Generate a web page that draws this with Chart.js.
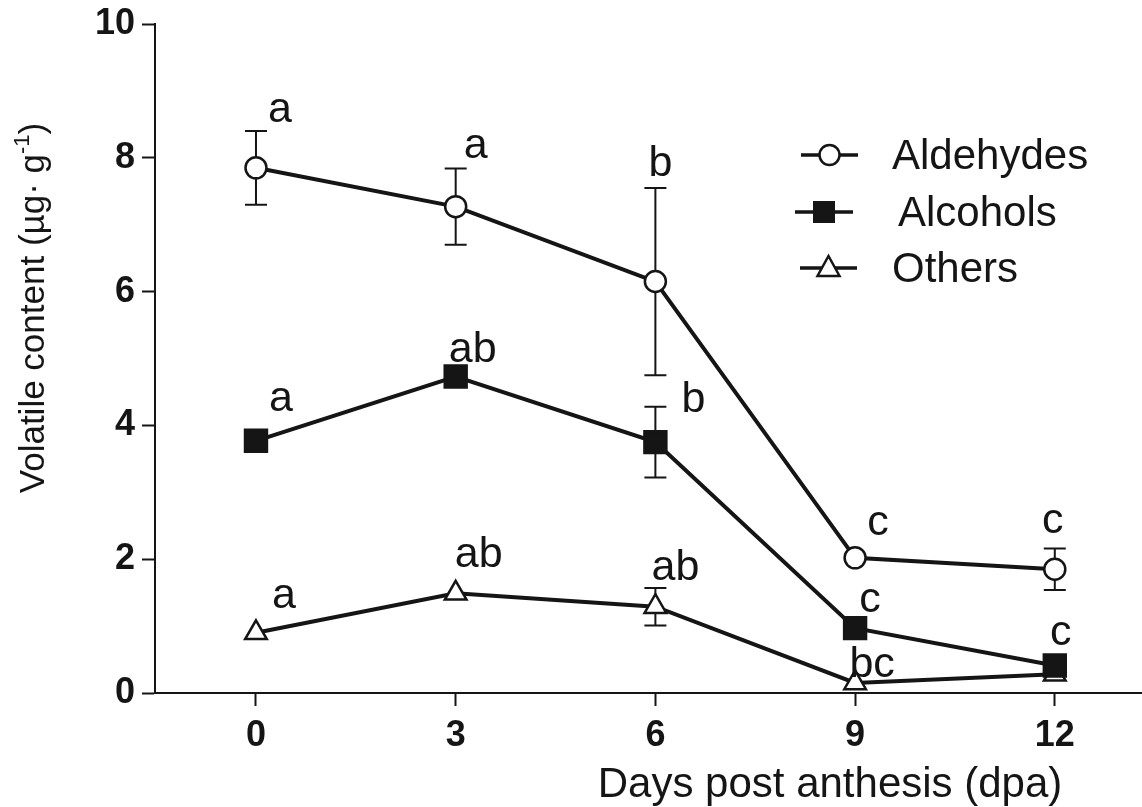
<!DOCTYPE html>
<html>
<head>
<meta charset="utf-8">
<script src="https://cdn.jsdelivr.net/npm/chart.js@4.4.1/dist/chart.umd.min.js"></script>
<style>
    html, body { margin: 0; padding: 0; background: #fff; overflow: hidden; }
    #wrap { width: 1142px; height: 807px; position: relative; }
    #wrap canvas { display: block; }
</style>
</head>
<body>
<div id="wrap"><canvas id="volatile-chart"></canvas></div>
<script>
// values
const days = [0, 3, 6, 9, 12];
const yTicks = [0, 2, 4, 6, 8, 10];

const aldehydes = [7.85, 7.27, 6.15, 2.02, 1.85];
const aldehydesErr = [0.55, 0.57, 1.40, 0, 0.31];
const aldehydesSig = ['a', 'a', 'b', 'c', 'c'];

const alcohols = [3.77, 4.73, 3.75, 0.97, 0.41];
const alcoholsErr = [0, 0, 0.53, 0, 0];
const alcoholsSig = ['a', 'ab', 'b', 'c', 'c'];

const others = [0.90, 1.49, 1.29, 0.15, 0.28];
const othersErr = [0, 0, 0.28, 0, 0];
const othersSig = ['a', 'ab', 'ab', 'bc', ''];

const xTitle = 'Days post anthesis (dpa)';
const yTitle = 'Volatile content (\u00b5g\u00b7 g';
const yTitleSup = '-1';

// layout only: where each letter sits relative to its point (px)
const sigOffsets = [
    [[24, -46], [20, -49], [5, -106], [23, -23], [-2, -36]],
    [[25, -30], [17, -15], [38, -30], [15, -16], [6, -21]],
    [[28, -25], [23, -26], [20, -27], [17, -6], [0, 0]]
];

const INK = '#151515';
const FONT = '"Liberation Sans", Arial, sans-serif';

const toPoints = (vals) => days.map((d, i) => ({ x: d, y: vals[i] }));

const errorSets = [aldehydesErr, alcoholsErr, othersErr];
const sigSets = [aldehydesSig, alcoholsSig, othersSig];

const errorBars = {
    id: 'errorBars',
    beforeDatasetsDraw(chart) {
        const ctx = chart.ctx;
        const y = chart.scales.y;
        ctx.save();
        ctx.strokeStyle = INK;
        ctx.lineWidth = 2;
        errorSets.forEach((errs, di) => {
            const meta = chart.getDatasetMeta(di);
            const vals = chart.data.datasets[di].data;
            meta.data.forEach((pt, i) => {
                const e = errs[i];
                if (!e) return;
                const top = y.getPixelForValue(vals[i].y + e);
                const bot = y.getPixelForValue(vals[i].y - e);
                ctx.beginPath();
                ctx.moveTo(pt.x, top);
                ctx.lineTo(pt.x, bot);
                ctx.moveTo(pt.x - 11, top);
                ctx.lineTo(pt.x + 11, top);
                ctx.moveTo(pt.x - 11, bot);
                ctx.lineTo(pt.x + 11, bot);
                ctx.stroke();
            });
        });
        ctx.restore();
    }
};

const drawMarker = (ctx, style, x, y) => {
    ctx.beginPath();
    if (style === 'circle') {
        ctx.arc(x, y, 10, 0, Math.PI * 2);
        ctx.fillStyle = '#fff';
        ctx.fill();
        ctx.lineWidth = 2.5;
        ctx.stroke();
    } else if (style === 'rect') {
        ctx.fillStyle = INK;
        ctx.fillRect(x - 11, y - 11, 22, 22);
    } else {
        ctx.moveTo(x, y - 12);
        ctx.lineTo(x + 11, y + 8);
        ctx.lineTo(x - 11, y + 8);
        ctx.closePath();
        ctx.fillStyle = '#fff';
        ctx.fill();
        ctx.lineWidth = 2.5;
        ctx.stroke();
    }
};

const annotations = {
    id: 'annotations',
    afterDatasetsDraw(chart) {
        const ctx = chart.ctx;
        ctx.save();
        ctx.fillStyle = INK;
        ctx.strokeStyle = INK;

        // significance letters
        ctx.font = '43px ' + FONT;
        ctx.textAlign = 'center';
        ctx.textBaseline = 'alphabetic';
        sigSets.forEach((letters, di) => {
            const meta = chart.getDatasetMeta(di);
            meta.data.forEach((pt, i) => {
                if (!letters[i]) return;
                const off = sigOffsets[di][i];
                ctx.fillText(letters[i], pt.x + off[0], pt.y + off[1]);
            });
        });

        // legend
        const legendRows = [
            { y: 155, lineX: [801, 858], textX: 892 },
            { y: 212, lineX: [795, 853], textX: 898 },
            { y: 268, lineX: [800, 857], textX: 892 }
        ];
        ctx.font = '42px ' + FONT;
        ctx.textAlign = 'left';
        ctx.textBaseline = 'middle';
        chart.data.datasets.forEach((ds, di) => {
            const row = legendRows[di];
            const mid = (row.lineX[0] + row.lineX[1]) / 2;
            ctx.lineWidth = 3.5;
            ctx.beginPath();
            ctx.moveTo(row.lineX[0], row.y);
            ctx.lineTo(row.lineX[1], row.y);
            ctx.stroke();
            drawMarker(ctx, ds.pointStyle, mid, row.y);
            ctx.fillStyle = INK;
            ctx.fillText(ds.label, row.textX, row.y + 2);
        });

        // x axis title
        ctx.font = '42px ' + FONT;
        ctx.textAlign = 'center';
        ctx.textBaseline = 'alphabetic';
        ctx.fillText(xTitle, 830, 797);

        // y axis title with superscript
        ctx.translate(44, 308);
        ctx.rotate(-Math.PI / 2);
        ctx.font = '35px ' + FONT;
        const wMain = ctx.measureText(yTitle).width;
        const wClose = ctx.measureText(')').width;
        ctx.font = '22px ' + FONT;
        const wSup = ctx.measureText(yTitleSup).width;
        const total = wMain + wSup + wClose;
        let x0 = -total / 2;
        ctx.textAlign = 'left';
        ctx.font = '35px ' + FONT;
        ctx.fillText(yTitle, x0, 0);
        ctx.font = '22px ' + FONT;
        ctx.fillText(yTitleSup, x0 + wMain, -15);
        ctx.font = '35px ' + FONT;
        ctx.fillText(')', x0 + wMain + wSup, 0);

        ctx.restore();
    }
};

const lineDataset = (label, vals, style, radius, fill) => ({
    label: label,
    data: toPoints(vals),
    borderColor: INK,
    borderWidth: 4,
    pointStyle: style,
    pointRadius: radius,
    pointBackgroundColor: fill,
    pointBorderColor: INK,
    pointBorderWidth: 2.5,
    tension: 0,
    fill: false,
    clip: false
});

const noPad = (scale) => {
    scale.paddingLeft = 0;
    scale.paddingRight = 0;
    scale.paddingTop = 0;
    scale.paddingBottom = 0;
};

const ctx = document.getElementById('volatile-chart').getContext('2d');
const chart = new Chart(ctx, {
    type: 'line',
    data: {
        datasets: [
            lineDataset('Aldehydes', aldehydes, 'circle', 10.5, '#fff'),
            lineDataset('Alcohols', alcohols, 'rect', 15.5, INK),
            lineDataset('Others', others, 'triangle', 12.5, '#fff')
        ]
    },
    options: {
        responsive: true,
        maintainAspectRatio: false,
        animation: false,
        layout: {
            autoPadding: false,
            padding: { top: 24, right: 0, bottom: 0, left: 0 }
        },
        plugins: {
            legend: { display: false },
            tooltip: { enabled: false }
        },
        scales: {
            x: {
                type: 'linear',
                min: -1.517,
                max: 13.31,
                afterBuildTicks: (scale) => {
                    scale.ticks = days.map(v => ({ value: v }));
                },
                afterFit: (scale) => { scale.height = 114; noPad(scale); },
                grid: {
                    drawOnChartArea: false,
                    drawTicks: true,
                    tickLength: 13,
                    tickWidth: 2,
                    tickColor: INK
                },
                border: { display: true, color: INK, width: 2 },
                ticks: {
                    color: INK,
                    padding: 8,
                    maxRotation: 0,
                    autoSkip: false,
                    font: { family: FONT, size: 36, weight: 'bold' }
                }
            },
            y: {
                min: 0,
                max: 10,
                afterBuildTicks: (scale) => {
                    scale.ticks = yTicks.map(v => ({ value: v }));
                },
                afterFit: (scale) => { scale.width = 155; noPad(scale); },
                grid: {
                    drawOnChartArea: false,
                    drawTicks: true,
                    tickLength: 13,
                    tickWidth: 2,
                    tickColor: INK
                },
                border: { display: true, color: INK, width: 2 },
                ticks: {
                    color: INK,
                    padding: 7,
                    font: { family: FONT, size: 36, weight: 'bold' }
                }
            }
        }
    },
    plugins: [errorBars, annotations]
});
</script>
</body>
</html>
